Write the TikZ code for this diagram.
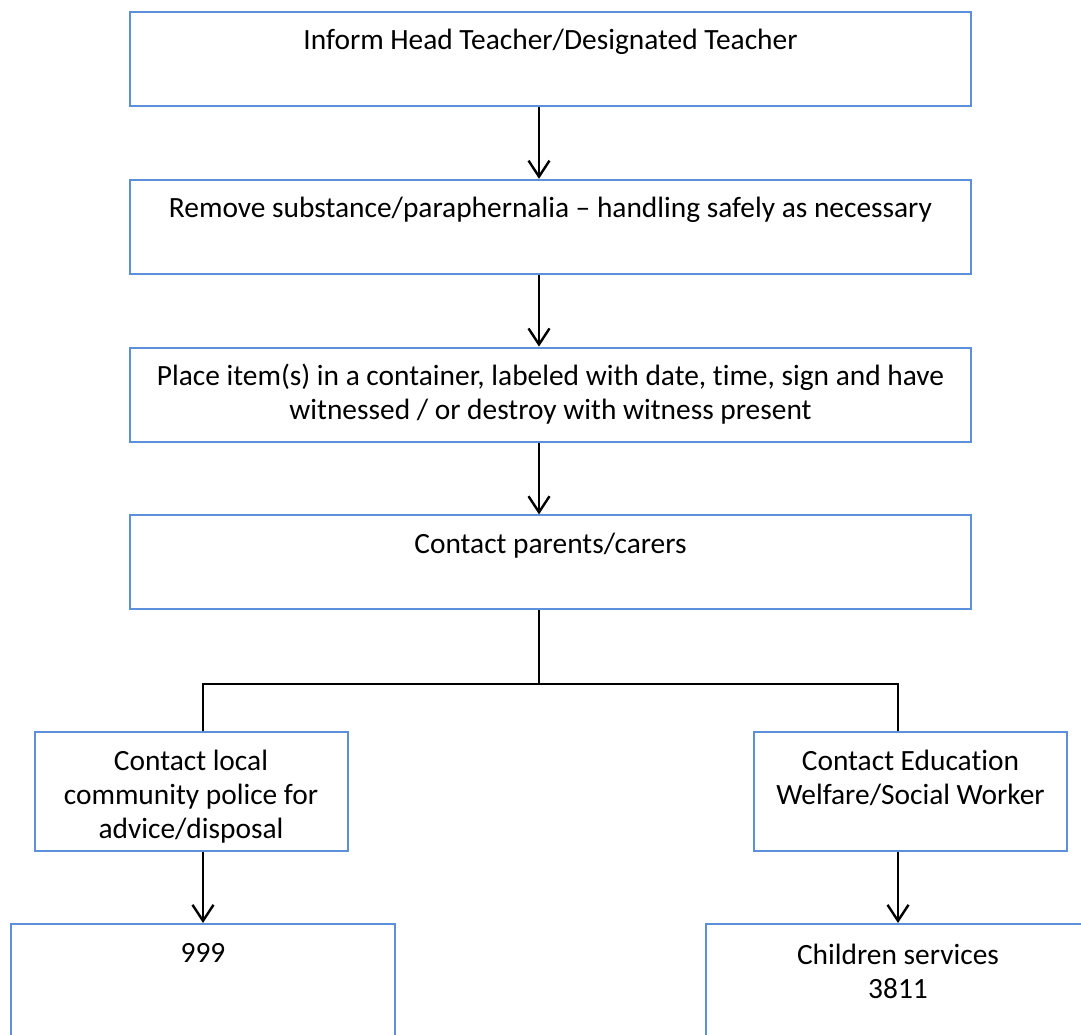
\documentclass[tikz,border=0pt]{standalone}
\usepackage{fontspec}
\setmainfont[Ligatures=NoCommon]{Carlito}
\usepackage{tikz}
\usetikzlibrary{positioning,arrows.meta}
\definecolor{boxblue}{RGB}{92,144,218}

\begin{document}
\begin{tikzpicture}[x=1pt,y=-1pt,node distance=167.8pt,on grid,
    >={Straight Barb[length=16pt,width=21pt]},
    stepbox/.style={draw=boxblue,line width=2pt,inner sep=0pt,align=center,
        font=\fontsize{29.4pt}{34pt}\selectfont,text height=38pt,text depth=56pt},
    wide/.style={stepbox,minimum width=841pt},
    side/.style={stepbox,minimum width=313pt},
    last/.style={stepbox,minimum width=384pt},
    link/.style={line width=2.4pt}]
    \useasboundingbox (0,0) rectangle (1081,1035);
    \node[wide] (inform) at (550.5,59) {Inform Head Teacher/Designated Teacher};
    \node[wide] (remove) [below of=inform] {Remove substance/paraphernalia – handling safely as necessary};
    \node[wide,text height=72pt,text depth=22pt] (place) [below of=remove] {Place item(s) in a container, labeled with date, time, sign and have\\witnessed / or destroy with witness present};
    \node[wide] (contact) [below of=place] {Contact parents/carers};
    \node[side,text height=106pt,text depth=13pt] (police) at (191,791.5) {Contact local\\community police for\\advice/disposal};
    \node[side,text height=72pt,text depth=47pt] (welfare) at (910.5,791.5) {Contact Education\\Welfare/Social Worker};
    \node[last,text depth=112pt] (nines) at (203,999) {999};
    \node[last,text height=74pt,text depth=76pt] (childserv) at (898,999) {Children services\\3811};
    \coordinate (split) at (539,684);
    \draw[link,->] ([xshift=-11.5pt]inform.south) -- ([xshift=-11.5pt]remove.north);
    \draw[link,->] ([xshift=-11.5pt]remove.south) -- ([xshift=-11.5pt]place.north);
    \draw[link,->] ([xshift=-11.5pt]place.south) -- ([xshift=-11.5pt]contact.north);
    \draw[line width=1.6pt] ([xshift=-11.5pt]contact.south) -- (split);
    \draw[link] ([xshift=12pt]police.north) |- (split) -| ([xshift=-12.5pt]welfare.north);
    \draw[link,->] ([xshift=12pt]police.south) -- (nines.north);
    \draw[link,->] ([xshift=-12.5pt]welfare.south) -- (childserv.north);
\end{tikzpicture}
\end{document}
